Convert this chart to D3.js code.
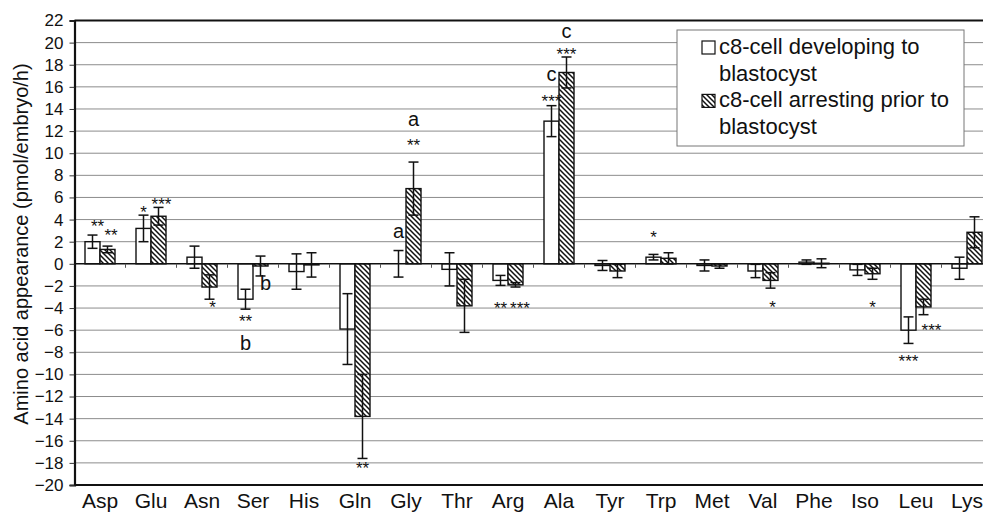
<!DOCTYPE html>
<html>
<head>
<meta charset="utf-8">
<script src="https://cdn.jsdelivr.net/npm/d3@7"></script>
<style>
  html, body { margin: 0; padding: 0; background: #fff; }
  svg { display: block; font-family: "Liberation Sans", Arial, sans-serif; }
</style>
</head>
<body>
<div id="chart"></div>
<script>
const categories = ['Asp', 'Glu', 'Asn', 'Ser', 'His', 'Gln', 'Gly', 'Thr', 'Arg', 'Ala', 'Tyr', 'Trp', 'Met', 'Val', 'Phe', 'Iso', 'Leu', 'Lys'];

// c8-cell developing to blastocyst (open bars)
const developing = [2.0, 3.2, 0.6, -3.2, -0.7, -5.9, 0.0, -0.5, -1.5, 12.9, -0.15, 0.6, -0.15, -0.65, 0.15, -0.55, -6.0, -0.4];
const developingErr = [0.6, 1.2, 1.0, 0.9, 1.6, 3.2, 1.2, 1.5, 0.45, 1.4, 0.45, 0.25, 0.5, 0.6, 0.2, 0.5, 1.2, 1.0];

// c8-cell arresting prior to blastocyst (hatched bars)
const arresting = [1.3, 4.3, -2.1, -0.2, -0.1, -13.8, 6.8, -3.8, -1.9, 17.3, -0.65, 0.5, -0.2, -1.5, 0.05, -0.9, -3.9, 2.85];
const arrestingErr = [0.3, 0.8, 1.1, 0.9, 1.1, 3.8, 2.4, 2.4, 0.2, 1.4, 0.6, 0.5, 0.2, 0.7, 0.4, 0.5, 0.7, 1.4];

const yTicks = d3.range(-20, 23, 2);

const seriesNames = ['c8-cell developing to blastocyst', 'c8-cell arresting prior to blastocyst'];

// significance marks, placed at a value on the y scale
const annotations = [
  { cat: 'Asp', s: 0, text: '**', at: 3.75, dx: 5 },
  { cat: 'Asp', s: 1, text: '**', at: 3.0, dx: 3.5 },
  { cat: 'Glu', s: 0, text: '*', at: 5.05 },
  { cat: 'Glu', s: 1, text: '***', at: 5.8, dx: 3 },
  { cat: 'Asn', s: 1, text: '*', at: -3.5, dx: 3 },
  { cat: 'Ser', s: 0, text: '**', at: -4.8 },
  { cat: 'Ser', s: 0, text: 'b', at: -7.2 },
  { cat: 'Ser', s: 1, text: 'b', at: -1.7, dx: 5 },
  { cat: 'Gln', s: 1, text: '**', at: -18.1 },
  { cat: 'Gly', s: 0, text: 'a', at: 2.8 },
  { cat: 'Gly', s: 1, text: 'a', at: 12.9 },
  { cat: 'Gly', s: 1, text: '**', at: 11.1 },
  { cat: 'Arg', s: 0, text: '**', at: -3.6 },
  { cat: 'Arg', s: 1, text: '***', at: -3.6, dx: 4.5 },
  { cat: 'Ala', s: 0, text: '***', at: 15.1 },
  { cat: 'Ala', s: 0, text: 'c', at: 17.0 },
  { cat: 'Ala', s: 1, text: '***', at: 19.35 },
  { cat: 'Ala', s: 1, text: 'c', at: 20.9 },
  { cat: 'Trp', s: 0, text: '*', at: 2.8 },
  { cat: 'Val', s: 1, text: '*', at: -3.5, dx: 2 },
  { cat: 'Iso', s: 1, text: '*', at: -3.5 },
  { cat: 'Leu', s: 0, text: '***', at: -8.4 },
  { cat: 'Leu', s: 1, text: '***', at: -5.65, dx: 8 }
];

const width = 983;
const height = 516;
const margin = { top: 20.5, left: 74.5, bottom: 485 };
const plotRight = 992.5; // plot runs past the right edge of the picture
const barW = 15;
const capW = 10;

const svg = d3.select('#chart')
  .append('svg')
  .attr('width', width)
  .attr('height', height)
  .attr('viewBox', `0 0 ${width} ${height}`);

const defs = svg.append('defs');
const hatch = defs.append('pattern')
  .attr('id', 'hatch')
  .attr('patternUnits', 'userSpaceOnUse')
  .attr('width', 5)
  .attr('height', 5);
hatch.append('rect').attr('width', 5).attr('height', 5).attr('fill', '#fff');
hatch.append('path')
  .attr('d', 'M-1,-1L6,6M-1,4L1,6M4,-1L6,1')
  .attr('stroke', '#111')
  .attr('stroke-width', 1.5);

const x = d3.scaleBand()
  .domain(categories)
  .range([margin.left, plotRight]);

const y = d3.scaleLinear()
  .domain([-20, 22])
  .range([margin.bottom, margin.top]);

// gridlines
svg.append('g')
  .selectAll('line')
  .data(yTicks.filter(t => t !== 0 && t !== 22 && t !== -20))
  .enter().append('line')
  .attr('x1', margin.left)
  .attr('x2', width)
  .attr('y1', d => y(d))
  .attr('y2', d => y(d))
  .attr('stroke', '#8c8c8c')
  .attr('stroke-width', 1);

// top and bottom borders
svg.append('line')
  .attr('x1', margin.left).attr('x2', width)
  .attr('y1', y(22)).attr('y2', y(22))
  .attr('stroke', '#111').attr('stroke-width', 2);
svg.append('line')
  .attr('x1', margin.left).attr('x2', width)
  .attr('y1', y(-20)).attr('y2', y(-20))
  .attr('stroke', '#111').attr('stroke-width', 2);

// legend box (drawn before bars so nothing hides them)
const legend = svg.append('g').attr('transform', 'translate(677,30)');
legend.append('rect')
  .attr('width', 287)
  .attr('height', 116)
  .attr('fill', '#fff')
  .attr('stroke', '#777')
  .attr('stroke-width', 1);

const barX = (i, s) => x(categories[i]) + x.bandwidth() / 2 - barW + s * barW;

const seriesData = [
  { vals: developing, errs: developingErr, fill: '#fff' },
  { vals: arresting, errs: arrestingErr, fill: 'url(#hatch)' }
];

seriesData.forEach((ser, s) => {
  const g = svg.append('g');

  g.selectAll('rect')
    .data(ser.vals)
    .enter().append('rect')
    .attr('x', (d, i) => barX(i, s))
    .attr('y', d => y(Math.max(0, d)))
    .attr('width', barW)
    .attr('height', d => Math.abs(y(d) - y(0)))
    .attr('fill', ser.fill)
    .attr('stroke', '#111')
    .attr('stroke-width', 1.4);

  const err = g.selectAll('.err')
    .data(ser.vals)
    .enter().append('g')
    .attr('class', 'err')
    .attr('stroke', '#111')
    .attr('stroke-width', 1.5);

  err.append('line')
    .attr('x1', (d, i) => barX(i, s) + barW / 2)
    .attr('x2', (d, i) => barX(i, s) + barW / 2)
    .attr('y1', (d, i) => y(d + ser.errs[i]))
    .attr('y2', (d, i) => y(d - ser.errs[i]));

  [1, -1].forEach(sign => {
    err.append('line')
      .attr('x1', (d, i) => barX(i, s) + barW / 2 - capW / 2)
      .attr('x2', (d, i) => barX(i, s) + barW / 2 + capW / 2)
      .attr('y1', (d, i) => y(d + sign * ser.errs[i]))
      .attr('y2', (d, i) => y(d + sign * ser.errs[i]));
  });
});

// zero line with category ticks
svg.append('line')
  .attr('x1', margin.left).attr('x2', width)
  .attr('y1', y(0)).attr('y2', y(0))
  .attr('stroke', '#111').attr('stroke-width', 1.6);
svg.append('g')
  .selectAll('line')
  .data(categories.slice(1))
  .enter().append('line')
  .attr('x1', d => x(d)).attr('x2', d => x(d))
  .attr('y1', y(0)).attr('y2', y(0) + 4)
  .attr('stroke', '#555').attr('stroke-width', 1);

// y axis
const yAxis = svg.append('g')
  .attr('transform', `translate(${margin.left},0)`)
  .call(d3.axisLeft(y).tickValues(yTicks).tickSize(5).tickPadding(6).tickFormat(d3.format('d')));
yAxis.select('.domain').attr('stroke', '#111').attr('stroke-width', 2.2);
yAxis.selectAll('.tick line').attr('stroke', '#333');
yAxis.selectAll('text')
  .attr('font-size', 17)
  .attr('fill', '#111')
  .style('font-family', '"Liberation Sans", Arial, sans-serif');

// x axis labels
const xAxis = svg.append('g')
  .attr('transform', `translate(0,${margin.bottom})`)
  .call(d3.axisBottom(x).tickSize(0).tickPadding(8));
xAxis.select('.domain').remove();
xAxis.selectAll('text')
  .attr('font-size', 21)
  .attr('fill', '#111')
  .style('font-family', '"Liberation Sans", Arial, sans-serif');

// y title
svg.append('text')
  .attr('transform', 'translate(28,244) rotate(-90)')
  .attr('text-anchor', 'middle')
  .attr('font-size', 20)
  .attr('fill', '#111')
  .text('Amino acid appearance (pmol/embryo/h)');

// annotations
svg.append('g')
  .selectAll('text')
  .data(annotations)
  .enter().append('text')
  .attr('x', d => barX(categories.indexOf(d.cat), d.s) + barW / 2 + (d.dx || 0))
  .attr('y', d => {
    if (d.text.startsWith('*')) return y(d.at) + 10;
    if (d.text === 'b') return y(d.at) + 7;
    return y(d.at) + 5;
  })
  .attr('text-anchor', 'middle')
  .attr('font-size', d => d.text.startsWith('*') ? 17 : 20)
  .attr('fill', '#111')
  .text(d => d.text);

// legend entries
const lineH = 26.7;
seriesNames.forEach((name, i) => {
  const top = i * 2 * lineH;
  legend.append('rect')
    .attr('x', 25)
    .attr('y', 11 + top)
    .attr('width', 13)
    .attr('height', 13)
    .attr('fill', i === 0 ? '#fff' : 'url(#hatch)')
    .attr('stroke', '#111')
    .attr('stroke-width', 1.2);
  const words = i === 0 ? ['c8-cell developing to', 'blastocyst'] : ['c8-cell arresting prior to', 'blastocyst'];
  const t = legend.append('text')
    .attr('font-size', 22)
    .attr('fill', '#111');
  words.forEach((w, j) => {
    t.append('tspan')
      .attr('x', 42)
      .attr('y', 24 + top + j * lineH)
      .text(w);
  });
});
</script>
</body>
</html>
